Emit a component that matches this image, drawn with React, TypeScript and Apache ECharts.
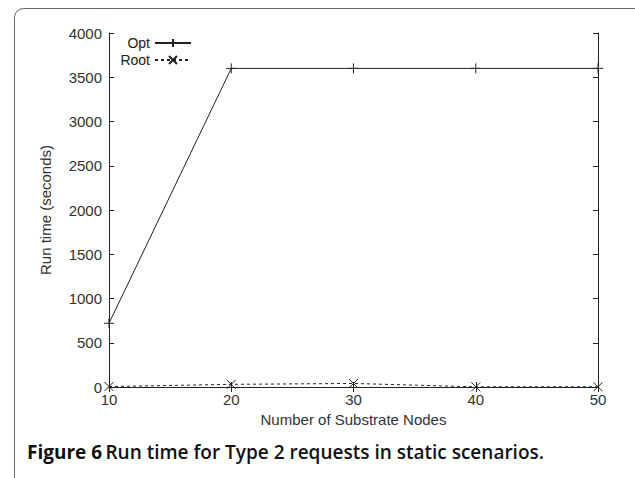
import React, { useEffect, useRef } from "react";
import * as echarts from "echarts";

const nodes = [10, 20, 30, 40, 50];
const optValues = [720, 3600, 3600, 3600, 3600];
const rootValues = [5, 30, 40, 2, 3];
const yTicks = [0, 500, 1000, 1500, 2000, 2500, 3000, 3500, 4000];

const PLUS = "path://M0,5L10,5M5,0L5,10";
const CROSS = "path://M0,0L10,10M10,0L0,10";

export default function App() {
  const ref = useRef<HTMLDivElement>(null);
  useEffect(() => {
    const chart = echarts.init(ref.current!, null, { renderer: "svg" });
    const font = "'Liberation Sans', Arial, sans-serif";
    const axisLine = { show: true, lineStyle: { color: "#222", width: 1 } };
    const tick = { show: true, inside: true, length: 5, lineStyle: { color: "#222", width: 1 } };
    const legendBase = {
      orient: "horizontal", left: 118, align: "right", padding: 0,
      itemWidth: 36, itemHeight: 10, itemGap: 0,
      textStyle: { color: "#222", fontSize: 14, lineHeight: 12, fontFamily: font, width: 32, align: "right", padding: [0, 0, 0, 0] },
    };
    chart.setOption({
      animation: false,
      backgroundColor: "#fff",
      grid: { left: 109, right: 37, top: 33, bottom: 91 },
      xAxis: [
        {
          type: "value", min: 10, max: 50, interval: 10, position: "bottom",
          axisLine, axisTick: tick, splitLine: { show: false },
          axisLabel: { color: "#333", fontSize: 15, fontFamily: font, margin: 5 },
          name: "Number of Substrate Nodes", nameLocation: "middle", nameGap: 25,
          nameTextStyle: { color: "#333", fontSize: 15, fontFamily: font },
        },
        {
          type: "value", min: 10, max: 50, interval: 10, position: "top",
          axisLine, axisTick: tick, splitLine: { show: false }, axisLabel: { show: false },
        },
      ],
      yAxis: [
        {
          type: "value", min: yTicks[0], max: yTicks[yTicks.length - 1], interval: 500, position: "left",
          axisLine, axisTick: tick, splitLine: { show: false },
          axisLabel: { color: "#333", fontSize: 15, fontFamily: font, margin: 7, formatter: (v: number) => String(v) },
          name: "Run time (seconds)", nameLocation: "middle", nameGap: 56,
          nameTextStyle: { color: "#333", fontSize: 15, fontFamily: font },
        },
        {
          type: "value", min: 0, max: 4000, interval: 500, position: "right",
          axisLine, axisTick: tick, splitLine: { show: false }, axisLabel: { show: false },
        },
      ],
      legend: [
        { ...legendBase, top: 36, data: ["Opt"] },
        { ...legendBase, top: 53, data: ["Root"] },
      ],
      series: [
        {
          name: "Opt", type: "line", xAxisIndex: 0, yAxisIndex: 0,
          data: nodes.map((n, i) => [n, optValues[i]]),
          symbol: PLUS, symbolSize: 10,
          itemStyle: { color: "transparent", borderColor: "#222", borderWidth: 1 },
          lineStyle: { color: "#222", width: 1 },
        },
        {
          name: "Root", type: "line", xAxisIndex: 0, yAxisIndex: 0,
          data: nodes.map((n, i) => [n, rootValues[i]]),
          symbol: CROSS, symbolSize: 9,
          itemStyle: { color: "transparent", borderColor: "#222", borderWidth: 1 },
          lineStyle: { color: "#222", width: 1, type: [3, 3] },
        },
      ],
      graphic: [
        {
          type: "rect", left: 12, top: 6, silent: true,
          shape: { x: 0, y: 0, width: 640, height: 600, r: 9 },
          style: { fill: "none", stroke: "#666", lineWidth: 1 },
        },
        {
          type: "text", left: 27, top: 442,
          style: {
            rich: {
              b: { fontWeight: "bold", fontSize: 19, fontFamily: "'Open Sans', sans-serif", fill: "#111" },
              n: { fontWeight: 600, fontSize: 19, fontFamily: "'Open Sans', sans-serif", fill: "#111" },
            },
            text: "{b|Figure 6} {n|Run time for Type 2 requests in static scenarios.}",
          },
        },
      ],
    });
    return () => chart.dispose();
  }, []);
  return <div ref={ref} style={{ width: 635, height: 478, position: "absolute", left: 0, top: 0 }} />;
}
